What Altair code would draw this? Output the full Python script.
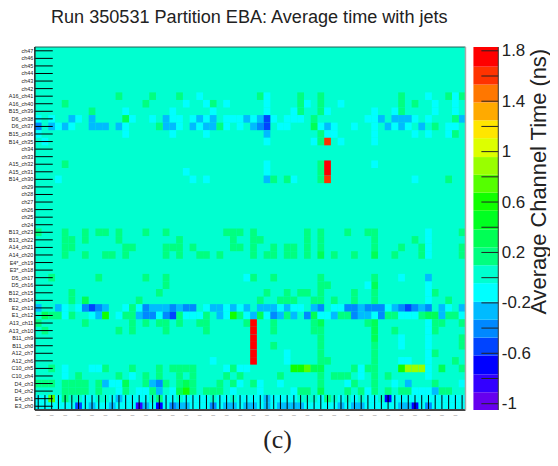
import altair as alt
import pandas as pd

TITLE = "Run 350531 Partition EBA: Average time with jets"
ROW_LABELS = ["ch47","ch46","ch45","ch44","ch43","ch42","A16_ch41","A16_ch40","B15_ch39","D6_ch38","D6_ch37",
 "B15_ch36","B14_ch35","ch34","ch33","A15_ch32","A15_ch31","B14_ch30","ch29","ch28","ch27","ch26","ch25","ch24",
 "B13_ch23","B13_ch22","A14_ch21","A14_ch20","E4*_ch19","E3*_ch18","D5_ch17","D5_ch16","B12_ch15","B12_ch14",
 "E2_ch13","E1_ch12","A13_ch11","A13_ch10","B11_ch9","B11_ch8","A12_ch7","A12_ch6","C10_ch5","C10_ch4","D4_ch3",
 "D4_ch2","E4_ch1","E3_ch0"]
COLUMNS = list(range(64))

# measured values (ns) by colour band
C, B, M, D, N, V, U = -0.12, -0.26, -0.40, -0.55, -0.69, -0.83, -0.97
G, H, L, K, Y, X = 0.17, 0.31, 0.46, 0.60, 0.75, 0.89
O, R = 1.60, 1.75

CELLS = {
 6: {G:[12,17,21,33,39,42,54,61,63], C:[24,34,58,62]},
 7: {G:[4,16,26,39,42,54,56], C:[22,25,28,34,40,45,59,62]},
 8: {G:[8,39,42,54], C:[13,20,26,34,38,43,50,53,59,62]},
 9: {C:[0,2,6,14,17,20,21,23,25,28,29,30,32,35,37,38,39,49,50,56,58], B:[5,8,19,24,26,31,33,51,53,54,55,63], G:[41,62], H:[13], D:[34]},
 10:{M:[0,33], B:[2,4,8,9,10,12,19,20,23,25,26,32,43,52,54,57], C:[3,5,13,21,24,28,30,36,37,42,44,47,50,53,55,61,62], G:[18,27,59], H:[41], D:[34]},
 11:{C:[0,13,20,25,43,44,50,56,58,61], B:[34], G:[42,62]},
 12:{C:[1,34,41,45,50], G:[42], O:[43]},
 15:{G:[4,42], C:[34,50], R:[43]},
 16:{C:[22,34], G:[42], R:[43]},
 17:{C:[3,23,25,38,56], B:[34], G:[35,37,42,61], O:[43]},
 24:{G:[0,4,7,9,10,12,16,19,28,29,30,32,40,42,46,49,50,63], C:[58]},
 25:{G:[4,5,7,12,21,29,32,33,40,42,50,56], C:[58]},
 26:{G:[4,5,13,14,19,20,21,23,29,30,32,35,37,38,40,42,50,54,57,63], C:[58]},
 27:{G:[4,7,10,11,13,19,21,24,25,27,32,34,35,37,38,40,44,47,53,57,63], H:[42,50], C:[58]},
 30:{G:[2,9,16,19,32,35,42,50], C:[31,54], B:[58]},
 31:{G:[19,42,43], H:[50], C:[49,58]},
 32:{G:[5,18,34,37,39,40,42,47,50,59], C:[58]},
 33:{G:[5,15,33,36,37,38,41,42,44,47,50,61], H:[7], C:[58]},
 34:{B:[0,3,10,17,18,19,21,26,27,29,31,33,34,35,37,41,48,53,57,60,63], C:[4,6,13,15,25,28,30,36,38,39,44,45,52,61], M:[7,9,16,20,22,23,42,46,47,49,50,51,54,56,58], D:[8,55], G:[14]},
 35:{H:[1,33,41,58,59], G:[2,3,5,13,14,21,25,30,37,45,46,52,53,57,61,62], C:[4,8,12,18,22,23,24,28,31,34,42,43,50,54,55,56,63], B:[9,15,27,32,36,38,44,48,49,60], K:[10,29], M:[16,17,19,35,40,47,51], D:[20]},
 36:{G:[0,7,14,16,18,19,21,24,25,31,35,41,49,59,60,63], H:[42,50], C:[58], R:[32]},
 37:{G:[1,12,14,19,25,35,41,42,53,59], H:[50], C:[58], R:[32]},
 38:{G:[42,63], H:[50], C:[54,58], R:[32]},
 39:{G:[35,42,50,63], C:[54,58], R:[32]},
 40:{C:[37,58], G:[42,50,59], R:[32]},
 41:{C:[26,37,54,55,58], G:[42,43,50,62], R:[32]},
 42:{G:[2,10,14,18,20,21,22,23,29,47,49,50,63], C:[4,8,9,28,30,31,48,58], K:[38,39,54], Y:[40], H:[41,42,60], X:[55,56,57]},
 43:{C:[4,14,48,58], G:[6,12,16,18,21,23,28,30,36,42,44,45,46,50,52]},
 44:{G:[0,1,2,4,5,6,7,9,16,19,21,23,27,29,32,42,47,50,59], B:[10,17,55], C:[11,12,30,33,36,46,53,63], H:[13,22], M:[18]},
 45:{G:[4,5,6,7,9,13,17,23,25,26,27,39,40,46,48,50,52,54,55,60,61], C:[12,15,16,20,29,33,38,49,56,57,58], B:[18,59], H:[21,42], K:[22]},
 46:{C:[0,1,3,7,8,11,13,14,15,16,19,20,22,23,24,25,27,28,30,31,32,33,35,36,37,38,42,45,47,49,50,53,54,55,56,57,58,59,60,61,62,63], Y:[2], G:[4,18,43], B:[12,34], N:[52]},
 47:{C:[0,1,2,3,4,5,7,9,10,12,13,14,17,19,23,24,25,27,30,33,35,40,41,42,43,44,46,49,50,51,52,53,57,59,60,61,62,63], D:[6], B:[8,11,16,21,22,28,29,31,32,34,36,37,38,39,45,47,48,54,55], V:[15], N:[18,56], M:[20,26,58]},
}

THRESHOLDS = [-0.909,-0.767,-0.617,-0.476,-0.334,-0.192,-0.043,0.099,0.241,0.383,0.531,0.674,0.816,0.957,1.107,1.249,1.39,1.532,1.674]
BAND_COLORS = ["#6600EE","#3300FF","#0000FF","#0044FF","#0088FF","#00BBFF","#00FFFF","#00FFD0","#00FF80","#00FF55",
               "#00FF22","#11FF00","#55FF00","#99FF00","#DDFF00","#FFE600","#FFAA00","#FF7700","#FF3300","#FF0000"]
SCALE_MIN, SCALE_MAX = -1.05, 1.83
CBAR_TICKS = [1.8,1.6,1.4,1.2,1,0.8,0.6,0.4,0.2,0,-0.2,-0.4,-0.6,-0.8,-1]

FONT = "Liberation Sans"
W, H_ = 433, 365
CB_W = 25

cells = pd.DataFrame([{"row": ROW_LABELS[r], "col": c, "v": v}
                      for r, d in CELLS.items() for v, cols in d.items() for c in cols])
color_scale = alt.Scale(type="threshold", domain=THRESHOLDS, range=BAND_COLORS)
x_scale = alt.Scale(domain=COLUMNS, paddingInner=0, paddingOuter=0)
y_scale = alt.Scale(domain=ROW_LABELS, paddingInner=0, paddingOuter=0)

frame_df = pd.DataFrame({"a": [0]})
bg = alt.Chart(frame_df).mark_rect(color="#00FFD0", stroke=None, opacity=1).encode(
    x=alt.value(0), x2=alt.value(W), y=alt.value(0), y2=alt.value(H_))
heat = alt.Chart(cells).mark_rect(stroke=None, opacity=1).encode(
    x=alt.X("col:O", scale=x_scale, title=None,
            axis=alt.Axis(values=COLUMNS[::2], labelExpr="'–'", labelAngle=0, labelFontSize=7, labelColor="#999999",
                          labelPadding=1, ticks=False, domain=False, grid=False, labelFont=FONT)),
    y=alt.Y("row:N", scale=y_scale, title=None,
            axis=alt.Axis(ticks=False, domain=False, grid=False, labelFontSize=5.5, labelColor="#222222",
                          labelPadding=2, labelFont=FONT, minExtent=25, maxExtent=25, labelOverlap=False)),
    color=alt.Color("v:Q", scale=color_scale, legend=None),
)
row_ticks = alt.Chart(pd.DataFrame({"row": ROW_LABELS})).mark_rule(color="black", strokeWidth=1).encode(
    y=alt.Y("row:N", scale=y_scale), x=alt.value(0), x2=alt.value(18))
col_ticks = alt.Chart(pd.DataFrame({"col": COLUMNS})).mark_rule(color="black", strokeWidth=1).encode(
    x=alt.X("col:O", scale=x_scale), y=alt.value(H_ - 15), y2=alt.value(H_))
def frame(color, sw, **enc):
    return alt.Chart(frame_df).mark_rule(color=color, strokeWidth=sw).encode(**{k: alt.value(v) for k, v in enc.items()})
frames = [frame("#1f5f55", 1, x=0, x2=W, y=0), frame("#444444", 2, x=0, x2=W, y=H_),
          frame("#222222", 1.5, x=0, y=0, y2=H_), frame("#aaaaaa", 1.5, x=W, y=0, y2=H_)]
caption = alt.Chart(pd.DataFrame({"t": ["(c)"]})).mark_text(font="Liberation Serif", fontSize=26, color="#222222", baseline="middle").encode(
    text="t:N", x=alt.value(244), y=alt.value(395))
main = alt.layer(bg, heat, row_ticks, col_ticks, *frames, caption).properties(width=W, height=H_)

lows = [SCALE_MIN] + THRESHOLDS
highs = THRESHOLDS + [SCALE_MAX]
bands = pd.DataFrame({"lo": lows, "hi": highs, "mid": [(a + b) / 2 for a, b in zip(lows, highs)]})
cb_y = alt.Scale(domain=[SCALE_MIN, SCALE_MAX], nice=False, zero=False)
cb = alt.Chart(bands).mark_rect(stroke=None, opacity=1).encode(
    y=alt.Y("lo:Q", scale=cb_y, title="Average Channel Time (ns)",
            axis=alt.Axis(orient="right", values=CBAR_TICKS, labelExpr="''+datum.value", ticks=False, domain=False, grid=False,
                          labelFontSize=17, labelColor="#222222", labelFont=FONT, labelPadding=3, labelOverlap=False,
                          titleFont=FONT, titleFontSize=22, titleFontWeight="normal", titleColor="#222222", titleAngle=270,
                          titleBaseline="alphabetic", titleY=135, titleX=47)),
    y2="hi:Q", x=alt.value(0), x2=alt.value(CB_W),
    color=alt.Color("mid:Q", scale=color_scale, legend=None),
)
cb_ticks = alt.Chart(pd.DataFrame({"t": CBAR_TICKS})).mark_rule(color="#222222", strokeWidth=1).encode(
    y=alt.Y("t:Q", scale=cb_y), x=alt.value(8), x2=alt.value(CB_W))
cb_edge = alt.Chart(frame_df).mark_rule(color="#333333", strokeWidth=1).encode(
    x=alt.value(CB_W), y=alt.value(0), y2=alt.value(H_))
bar = alt.layer(cb, cb_ticks, cb_edge).properties(width=CB_W, height=H_)

chart = alt.hconcat(main, bar, spacing=7, padding={"left": 0, "top": -2, "right": 1, "bottom": 0},
                    title=alt.TitleParams(TITLE, font=FONT, fontSize=18.2, fontWeight="normal", color="#222222",
                                          anchor="start", dx=43, offset=15)
                    ).resolve_scale(color="independent", y="independent", x="independent"
                    ).configure_view(stroke=None, fill=None)
chart.save("out.html", embed_options={"renderer": "svg", "actions": False})
